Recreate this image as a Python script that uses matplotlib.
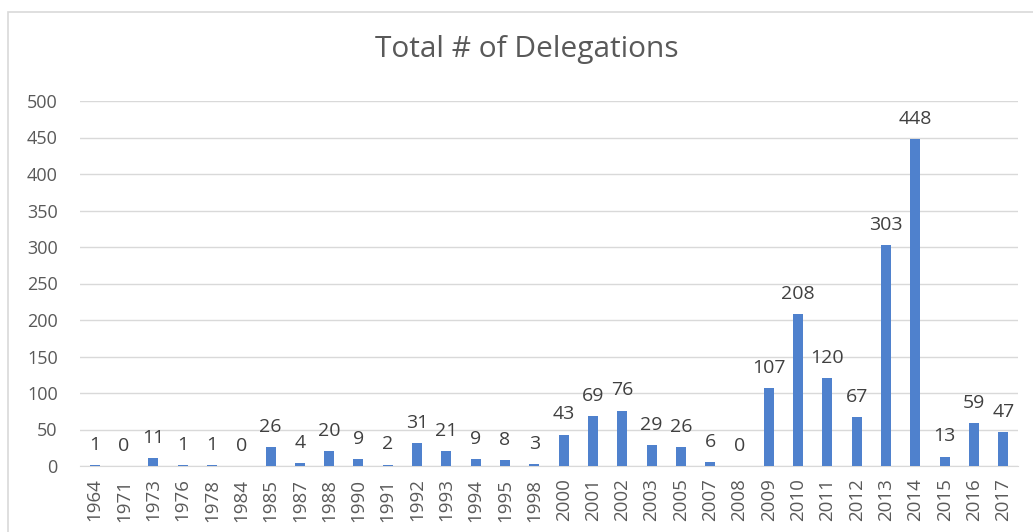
import matplotlib
matplotlib.use("Agg")
import matplotlib.pyplot as plt
from matplotlib.patches import Rectangle

years = ["1964", "1971", "1973", "1976", "1978", "1984", "1985", "1987", "1988", "1990",
         "1991", "1992", "1993", "1994", "1995", "1998", "2000", "2001", "2002", "2003",
         "2005", "2007", "2008", "2009", "2010", "2011", "2012", "2013", "2014", "2015",
         "2016", "2017"]
delegations = [1, 0, 11, 1, 1, 0, 26, 4, 20, 9, 2, 31, 21, 9, 8, 3, 43, 69, 76, 29,
               26, 6, 0, 107, 208, 120, 67, 303, 448, 13, 59, 47]
yticks = [0, 50, 100, 150, 200, 250, 300, 350, 400, 450, 500]
title = "Total # of Delegations"

plt.rcParams['font.family'] = ['Open Sans', 'DejaVu Sans']

W, H = 1033, 532
fig = plt.figure(figsize=(W / 100, H / 100), dpi=100)
fig.patch.set_facecolor("white")

# outer chart border
fig.patches.append(Rectangle((8 / W, -0.1), 1.2, 1 - 12 / H + 0.1, transform=fig.transFigure,
                             fill=False, edgecolor="#D9D9D9", linewidth=1.2))

ax = fig.add_axes([80 / W, 1 - 466 / H, (1018 - 80) / W, (466 - 101) / H])
x = list(range(len(years)))
ax.bar(x, delegations, width=0.34, color="#4F81CD", zorder=3)
ax.set_xlim(-0.5, len(years) - 0.5)
ax.set_ylim(0, 500)
ax.set_yticks(yticks)
ax.set_yticklabels([str(t) for t in yticks], fontsize=13, color="#595959")
ax.set_xticks(x)
ax.set_xticklabels(years, rotation=90, fontsize=13.5, color="#595959")
ax.tick_params(axis="x", length=0, pad=9)
ax.tick_params(axis="y", length=0, pad=16)
ax.grid(axis="y", color="#D9D9D9", linewidth=1.0, zorder=0)
for s in ["top", "right", "left"]:
    ax.spines[s].set_visible(False)
ax.spines["bottom"].set_color("#D9D9D9")

for xi, v in zip(x, delegations):
    ax.annotate(str(v), (xi, v), xytext=(0, 8), textcoords="offset points",
                ha="center", va="bottom", fontsize=14, color="#404040")

fig.text(527 / W, 1 - 50 / H, title, ha="center", va="center", fontsize=21.5, color="#595959")

fig.savefig("out.png", dpi=100)
